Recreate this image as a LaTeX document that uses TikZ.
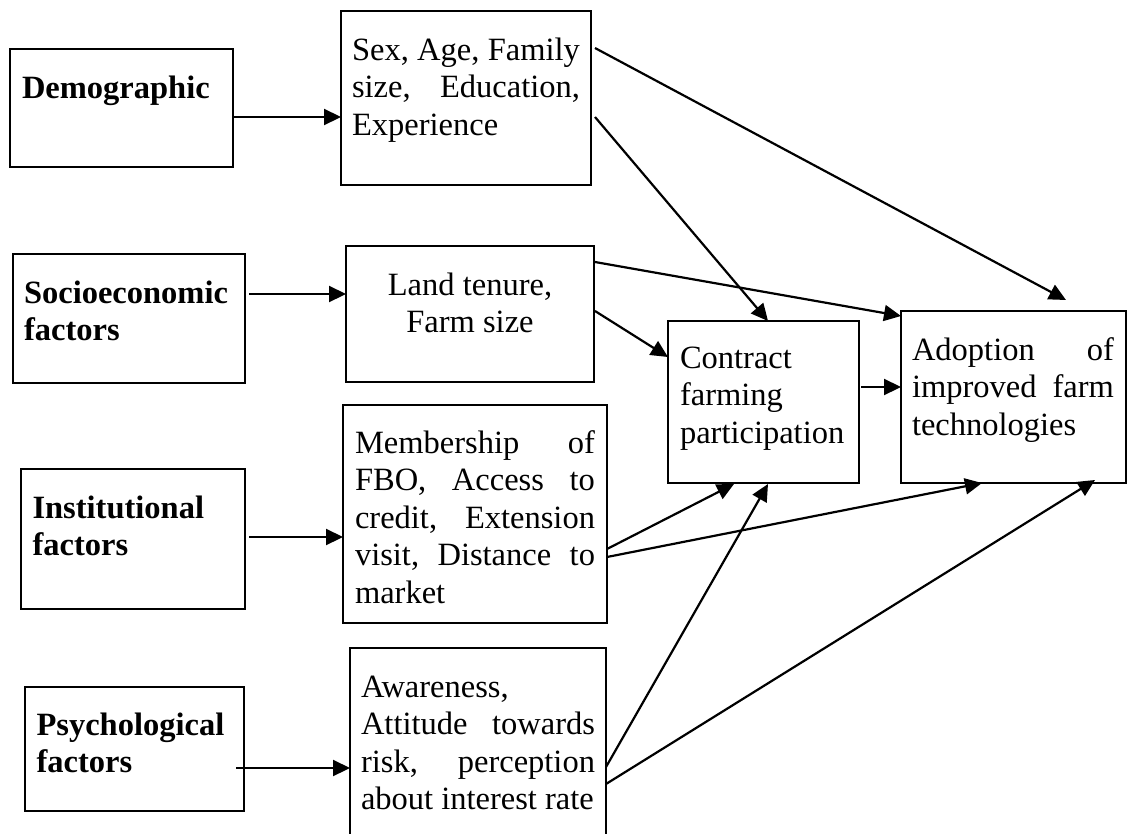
\documentclass[tikz,border=0pt]{standalone}
\usepackage{fontspec}
\setmainfont{Liberation Serif}
\usetikzlibrary{arrows.meta,calc}
\tikzset{
  box/.style={draw, line width=2pt, inner sep=0pt, outer sep=0pt, anchor=north west, fill=none},
  txt/.style={inner sep=0pt, outer sep=0pt, anchor=base west, font=\fontsize{32.5pt}{37.5pt}\selectfont},
  ctxt/.style={txt, anchor=base},
  arr/.style={line width=2.2pt, -{Triangle[length=17pt,width=16pt]}}
}
\begin{document}
\begin{tikzpicture}[x=1pt,y=-1pt]
\useasboundingbox[fill=white] (0,0) rectangle (1130,833);
\clip (0,0) rectangle (1130,833);
% boxes
\node[box, minimum width=223pt, minimum height=118pt] (demo) at (10,49) {};
\node[box, minimum width=232pt, minimum height=129pt] (socio) at (13,254) {};
\node[box, minimum width=224pt, minimum height=140pt] (inst) at (21,469) {};
\node[box, minimum width=219pt, minimum height=124pt] (psych) at (25,687) {};
\node[box, minimum width=250pt, minimum height=174pt] (sex) at (341,11) {};
\node[box, minimum width=248pt, minimum height=136pt] (land) at (346,246) {};
\node[box, minimum width=264pt, minimum height=218pt] (memb) at (343,405) {};
\node[box, minimum width=256pt, minimum height=210pt] (aware) at (350,648) {};
\node[box, minimum width=191pt, minimum height=162pt] (contract) at (668,321) {};
\node[box, minimum width=225pt, minimum height=172pt] (adopt) at (901,311) {};
% texts
\node[txt] (demo-t) at ($(demo.north west)+(12,49)$) {\bfseries Demographic};
\node[txt] (socio-t) at ($(socio.north west)+(11,49)$) {\parbox[t]{215pt}{\bfseries Socioeconomic\\factors}};
\node[txt] (inst-t) at ($(inst.north west)+(11.5,49)$) {\parbox[t]{210pt}{\bfseries Institutional\\factors}};
\node[txt] (psych-t) at ($(psych.north west)+(11.5,48)$) {\parbox[t]{205pt}{\bfseries Psychological\\factors}};
\node[txt] (sex-t) at ($(sex.north west)+(11,49)$) {\parbox[t]{228pt}{Sex,\hfill Age,\hfill Family\\size,\hfill Education,\\Experience}};
\node[ctxt] (land-t) at ($(land.north)+(0,49)$) {\parbox[t]{230pt}{\centering Land tenure,\\Farm size}};
\node[txt] (memb-t) at ($(memb.north west)+(12,48)$) {\parbox[t]{240pt}{Membership\hfill of\\FBO,\hfill Access\hfill to\\credit,\hfill Extension\\visit,\hfill Distance\hfill to\\market}};
\node[txt] (aware-t) at ($(aware.north west)+(11,49)$) {\parbox[t]{234pt}{Awareness,\\Attitude\hfill towards\\risk,\hfill perception\\about interest rate}};
\node[txt] (contract-t) at ($(contract.north west)+(12,47)$) {\parbox[t]{180pt}{Contract\\farming\\participation}};
\node[txt] (adopt-t) at ($(adopt.north west)+(11,49)$) {\parbox[t]{202pt}{Adoption\hfill of\\improved\hfill farm\\technologies}};
% connectors
\draw[arr] ([shift={(0,68)}]demo.north east) -- ([shift={(0,106)}]sex.north west);
\draw[arr] ([shift={(4,40)}]socio.north east) -- ([shift={(0,48)}]land.north west);
\draw[arr] ([shift={(4,68)}]inst.north east) -- ([shift={(0,132)}]memb.north west);
\draw[arr] ([shift={(-8,81)}]psych.north east) -- ([shift={(0,120)}]aware.north west);
\draw[arr] ([shift={(4,37)}]sex.north east) -- ([shift={(165,-11)}]adopt.north west);
\draw[arr] ([shift={(4,106)}]sex.north east) -- ([shift={(100,0)}]contract.north west);
\draw[arr] ([shift={(1,16)}]land.north east) -- ([shift={(0,5)}]adopt.north west);
\draw[arr] ([shift={(1,65)}]land.north east) -- ([shift={(0,36)}]contract.north west);
\draw[arr] ([shift={(0,144)}]memb.north east) -- ([shift={(66,1)}]contract.south west);
\draw[arr] ([shift={(0,152)}]memb.north east) -- ([shift={(81,0)}]adopt.south west);
\draw[arr] ([shift={(0,119)}]aware.north east) -- ([shift={(100,1)}]contract.south west);
\draw[arr] ([shift={(0,136)}]aware.north east) -- ([shift={(194,-3)}]adopt.south west);
\draw[arr] ([shift={(2,66)}]contract.north east) -- ([shift={(0,76)}]adopt.north west);
\end{tikzpicture}
\end{document}
